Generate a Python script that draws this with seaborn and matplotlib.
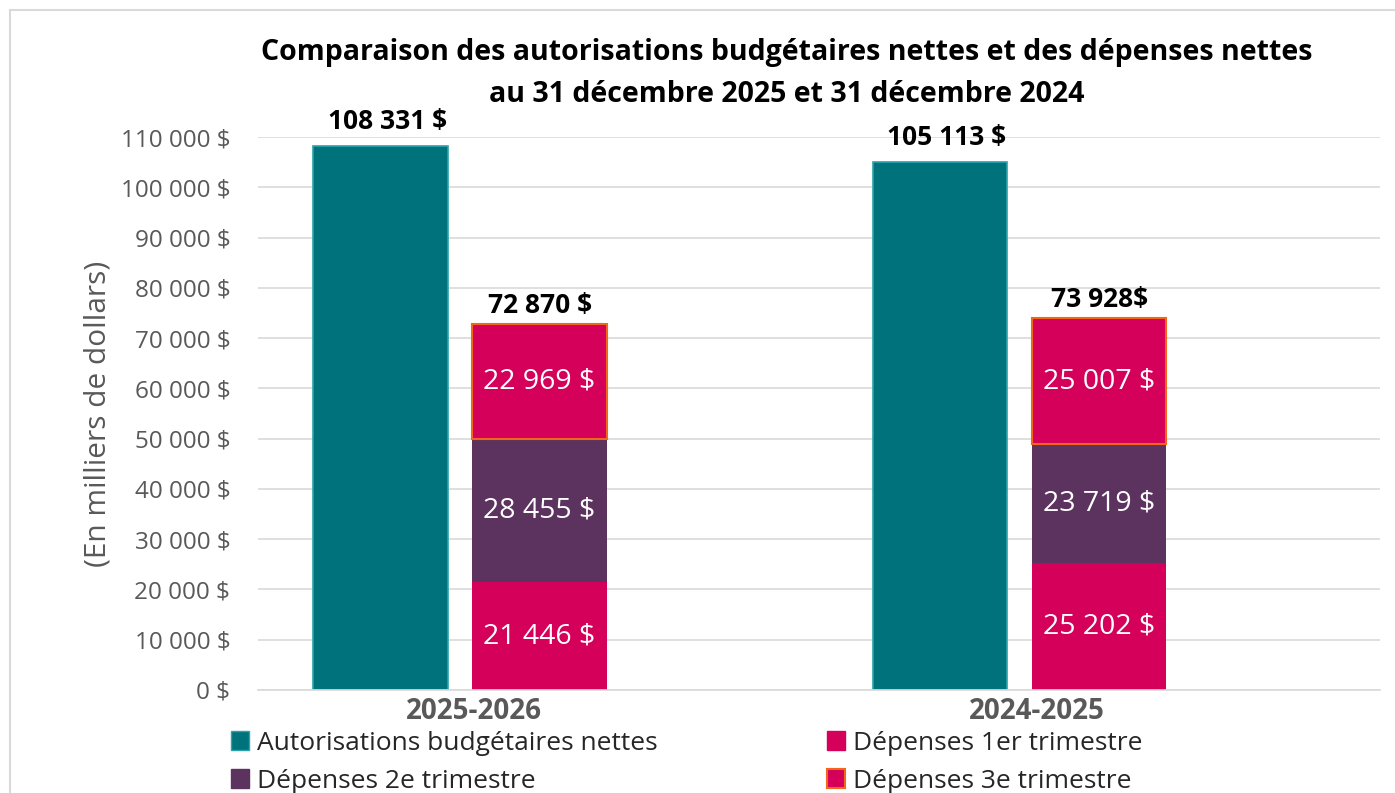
import numpy as np
import pandas as pd
import matplotlib
matplotlib.use("Agg")
import matplotlib.pyplot as plt
from matplotlib.patches import Patch, Rectangle
import seaborn as sns

# data (en milliers de dollars)
annees = ["2025-2026", "2024-2025"]
autorisations = [108331, 105113]
dep_t1 = [21446, 25202]
dep_t2 = [28455, 23719]
dep_t3 = [22969, 25007]
lbl_autorisations = ["108 331 $", "105 113 $"]
lbl_total = ["72 870 $", "73 928$"]
lbl_t1 = ["21 446 $", "25 202 $"]
lbl_t2 = ["28 455 $", "23 719 $"]
lbl_t3 = ["22 969 $", "25 007 $"]
yticks = list(range(0, 110001, 10000))

c_teal = "#00727C"
c_teal_edge = "#2BA3AB"
c_pink = "#D4005A"
c_purple = "#5C325F"
c_orange = "#F4651C"
c_grey = "#595959"

sns.set_theme(style="white")
plt.rcParams["font.family"] = ["Open Sans", "DejaVu Sans"]

df = pd.DataFrame({
    "annee": annees * 2,
    "serie": ["auth"] * 2 + ["t1"] * 2,
    "valeur": autorisations + dep_t1,
})

fig = plt.figure(figsize=(13.95, 7.93), dpi=100)
ax = fig.add_axes([0.185, 0.130, 0.804, 0.697])

sns.barplot(data=df, x="annee", y="valeur", hue="serie", hue_order=["auth", "t1"],
            palette={"auth": c_teal, "t1": c_pink}, width=0.568, gap=0.155,
            saturation=1, linewidth=0, legend=False, ax=ax, errorbar=None)

auth_bars = ax.containers[0]
t1_bars = ax.containers[1]
for p in auth_bars:
    p.set_edgecolor(c_teal_edge)
    p.set_linewidth(1.2)

xs = np.array([p.get_x() + p.get_width() / 2 for p in t1_bars])
w = t1_bars[0].get_width()
bottom2 = np.array(dep_t1)
bottom3 = bottom2 + np.array(dep_t2)
ax.bar(xs, dep_t2, width=w, bottom=bottom2, color=c_purple, linewidth=0)
ax.bar(xs, dep_t3, width=w, bottom=bottom3, color=c_pink, edgecolor=c_orange, linewidth=1.5)

# data labels
for i, p in enumerate(auth_bars):
    ax.text(p.get_x() + p.get_width() / 2 + 0.012, autorisations[i] + 2200, lbl_autorisations[i],
            ha="center", va="bottom", fontsize=19, fontweight="bold", color="black")
totals = bottom3 + np.array(dep_t3)
for i, x in enumerate(xs):
    ax.text(x, totals[i] + 1000, lbl_total[i], ha="center", va="bottom",
            fontsize=19, fontweight="bold", color="black")
    ax.text(x, dep_t1[i] / 2, lbl_t1[i], ha="center", va="center", fontsize=20.5, color="white")
    ax.text(x, bottom2[i] + dep_t2[i] / 2, lbl_t2[i], ha="center", va="center", fontsize=20.5, color="white")
    ax.text(x, bottom3[i] + dep_t3[i] / 2, lbl_t3[i], ha="center", va="center", fontsize=20.5, color="white")

ax.set_xlim(-0.361, 1.643)
ax.set_ylim(0, 110000)
ax.set_yticks(yticks)
ax.set_yticklabels([f"{v:,}".replace(",", " ") + " $" for v in yticks], fontsize=17.5, color=c_grey)
ax.set_xticks([0.025, 1.03])
ax.set_xticklabels(annees, fontsize=20, fontweight="bold", color=c_grey)
ax.tick_params(axis="both", length=0)
ax.tick_params(axis="y", pad=20)
ax.tick_params(axis="x", pad=5)
ax.grid(axis="y", color="#D9D9D9", linewidth=1.2)
ax.set_axisbelow(True)
for s in ["top", "right", "left"]:
    ax.spines[s].set_visible(False)
ax.spines["bottom"].set_color("#D9D9D9")
ax.spines["bottom"].set_linewidth(1.2)
ax.set_xlabel("")
ax.set_ylabel("(En milliers de dollars)", fontsize=21.5, color=c_grey, labelpad=6)

fig.text(0.564, 0.907, "Comparaison des autorisations budgétaires nettes et des dépenses nettes\n"
         "au 31 décembre 2025 et 31 décembre 2024", ha="center", va="center",
         fontsize=20.5, fontweight="bold", color="black", linespacing=1.6)

handles = [
    Patch(facecolor=c_teal, edgecolor=c_teal_edge, label="Autorisations budgétaires nettes"),
    Patch(facecolor=c_purple, edgecolor=c_purple, label="Dépenses 2e trimestre"),
    Patch(facecolor=c_pink, edgecolor=c_pink, label="Dépenses 1er trimestre"),
    Patch(facecolor=c_pink, edgecolor=c_orange, linewidth=1.5, label="Dépenses 3e trimestre"),
]
fig.legend(handles=handles, ncol=2, loc="upper left", bbox_to_anchor=(0.158, 0.092),
           frameon=False, fontsize=19, handlelength=0.7, handleheight=0.7,
           handletextpad=0.3, columnspacing=6.4, labelspacing=0.5, borderaxespad=0)

fig.patches.append(Rectangle((10 / 1395, -0.05), 1.2, 1 - 10 / 793 + 0.05, transform=fig.transFigure,
                             fill=False, edgecolor="#D9D9D9", linewidth=1.5))

fig.savefig("out.png", dpi=100)
